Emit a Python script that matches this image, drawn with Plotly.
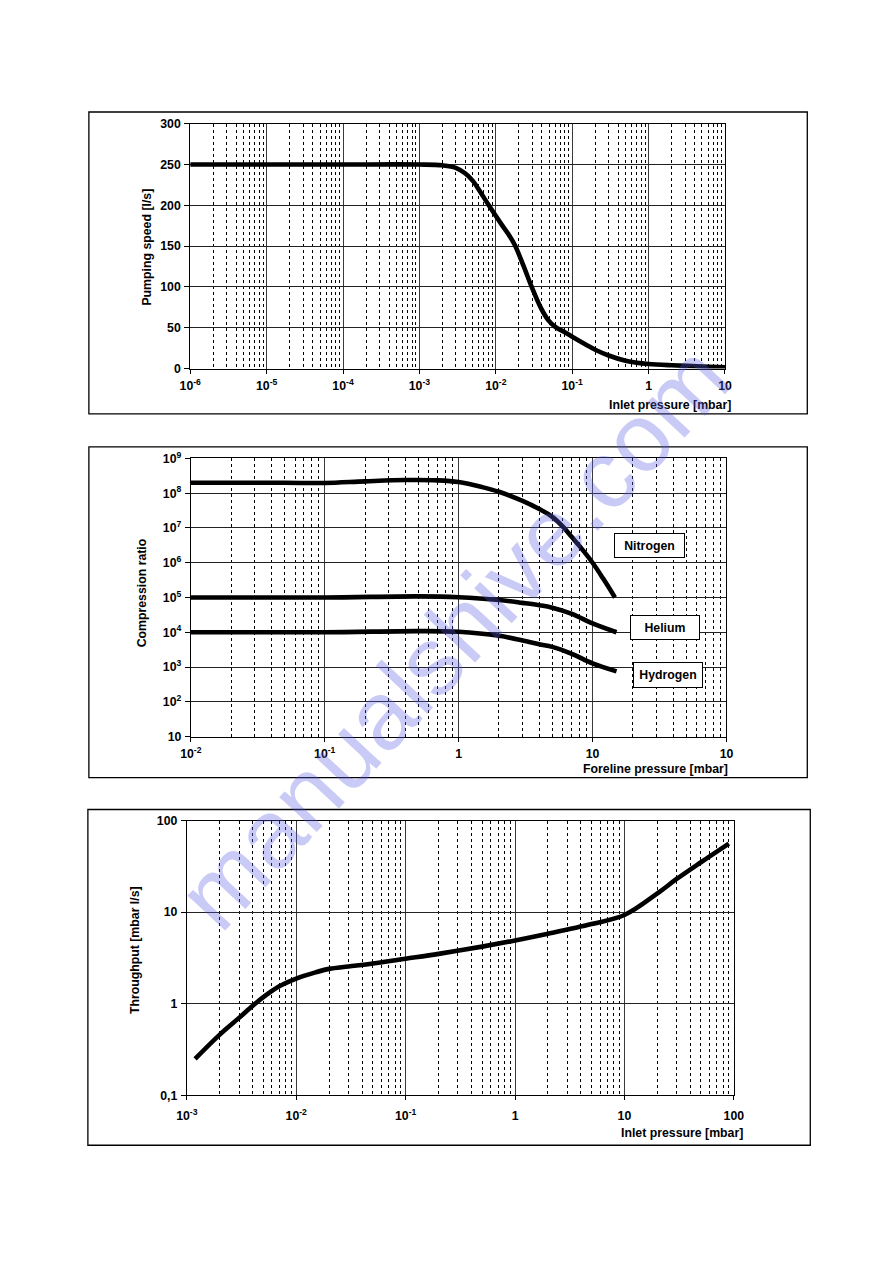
import math
import plotly.graph_objects as go

# ---------------- data ----------------
# Chart 1: pumping speed vs inlet pressure
p_speed = [1e-6, 1e-5, 1e-4, 1e-3, 2e-3, 3e-3, 4e-3, 5e-3, 6.3e-3, 8.1e-3, 1.2e-2, 1.5e-2,
           1.78e-2, 2.3e-2, 2.95e-2, 3.86e-2, 4.8e-2, 6e-2, 8e-2, 0.1, 0.15, 0.2, 0.3, 0.5,
           0.7, 1, 2, 5, 10]
speed = [250, 250, 250, 250, 249, 246, 239, 230, 216, 200, 176, 163,
         151, 126, 100, 75, 60, 51, 44.5, 39, 29.5, 23, 16, 9.5,
         7, 5.5, 4, 2.5, 1.5]

# Chart 2: compression ratio vs foreline pressure
p_nitrogen = [0.01, 0.05, 0.1, 0.2, 0.4, 0.7, 1, 1.5, 2, 3, 4, 5, 6, 7, 8, 10, 12, 14.7]
nitrogen = [2.0e8, 2.0e8, 1.97e8, 2.2e8, 2.4e8, 2.35e8, 2.1e8, 1.5e8, 1.1e8, 6e7, 3.5e7,
            2.1e7, 1.1e7, 5.5e6, 3e6, 1e6, 3.5e5, 1e5]
p_light = [0.01, 0.1, 0.5, 1, 2, 3, 4, 5, 7, 10, 15.1]
helium = [1e5, 1e5, 1.08e5, 1.02e5, 8.5e4, 7e4, 6e4, 5.1e4, 3.4e4, 1.8e4, 1e4]
hydrogen = [1e4, 1e4, 1.08e4, 1.03e4, 7.9e3, 5.8e3, 4.5e3, 3.8e3, 2.4e3, 1.27e3, 750]
gas_names = ["Nitrogen", "Helium", "Hydrogen"]
gas_label_at = [(26.5, 3.1e6), (34.7, 1.41e4), (36.5, 603)]

# Chart 3: throughput vs inlet pressure
p_thr = [1.19e-3, 2e-3, 3e-3, 4e-3, 5e-3, 7e-3, 1e-2, 1.5e-2, 2e-2, 3e-2, 5e-2, 0.1,
         0.2, 0.5, 1, 2, 5, 10, 20, 30, 50, 90]
throughput = [0.25, 0.46, 0.7, 0.95, 1.18, 1.55, 1.88, 2.2, 2.4, 2.55, 2.75, 3.1,
              3.5, 4.2, 4.9, 5.8, 7.4, 9.3, 16, 23, 35, 56]

# tick labels
x1_vals = [1e-6, 1e-5, 1e-4, 1e-3, 1e-2, 1e-1, 1, 10]
x1_text = ["10<sup>-6</sup>", "10<sup>-5</sup>", "10<sup>-4</sup>", "10<sup>-3</sup>",
           "10<sup>-2</sup>", "10<sup>-1</sup>", "1", "10"]
y1_vals = [0, 50, 100, 150, 200, 250, 300]
x2_vals = [1e-2, 1e-1, 1, 10, 100]
x2_text = ["10<sup>-2</sup>", "10<sup>-1</sup>", "1", "10", "10"]
y2_vals = [10, 1e2, 1e3, 1e4, 1e5, 1e6, 1e7, 1e8, 1e9]
y2_text = ["10", "10<sup>2</sup>", "10<sup>3</sup>", "10<sup>4</sup>", "10<sup>5</sup>",
           "10<sup>6</sup>", "10<sup>7</sup>", "10<sup>8</sup>", "10<sup>9</sup>"]
x3_vals = [1e-3, 1e-2, 1e-1, 1, 10, 100]
x3_text = ["10<sup>-3</sup>", "10<sup>-2</sup>", "10<sup>-1</sup>", "1", "10", "100"]
y3_vals = [0.1, 1, 10, 100]
y3_text = ["0,1", "1", "10", "100"]

# ---------------- layout helpers ----------------
# the captured picture is slightly reduced relative to page pixels; compensate
SX, SY = 0.980, 0.988
BODY = 8                      # default body margin of the html page
W, H = 893, 1258
FONT = "Liberation Sans, Arial, sans-serif"


def px(x):
    return (x / SX - BODY) / W


def py(y):
    return 1 - (y / SY - BODY) / H


def minor_vals(lo, hi):
    vals = []
    for e in range(lo, hi):
        for k in range(2, 10):
            vals.append(k * 10 ** e)
    return vals


fig = go.Figure()
line_style = dict(color="black", width=4.6, shape="spline", smoothing=1.0)
fig.add_trace(go.Scatter(x=p_speed, y=speed, mode="lines", line=line_style,
                         xaxis="x", yaxis="y", showlegend=False))
fig.add_trace(go.Scatter(x=p_nitrogen, y=nitrogen, mode="lines", line=line_style,
                         xaxis="x2", yaxis="y2", name="Nitrogen", showlegend=False))
fig.add_trace(go.Scatter(x=p_light, y=helium, mode="lines", line=line_style,
                         xaxis="x2", yaxis="y2", name="Helium", showlegend=False))
fig.add_trace(go.Scatter(x=p_light, y=hydrogen, mode="lines", line=line_style,
                         xaxis="x2", yaxis="y2", name="Hydrogen", showlegend=False))
fig.add_trace(go.Scatter(x=p_thr, y=throughput, mode="lines", line=line_style,
                         xaxis="x3", yaxis="y3", showlegend=False))

FS = 12.3
tickfont = dict(family=FONT, size=FS, color="black", weight="bold")
grid_major = "#3a3a3a"


def xaxis(domain, anchor, rng, vals, text, mlo, mhi, standoff=2):
    return dict(domain=domain, anchor=anchor, type="log", range=rng,
                tickmode="array", tickvals=vals, ticktext=text,
                showgrid=True, gridcolor=grid_major, gridwidth=1,
                showline=True, linecolor="black", linewidth=1, mirror=True,
                ticks="outside", ticklen=4, tickcolor="black",
                tickfont=tickfont, ticklabelstandoff=standoff,
                minor=dict(tickmode="array", tickvals=minor_vals(mlo, mhi),
                           showgrid=True, gridcolor="black", gridwidth=1,
                           griddash="3px,3px", ticks=""),
                zeroline=False, fixedrange=True)


def yaxis(domain, anchor, **kw):
    d = dict(domain=domain, anchor=anchor,
             showgrid=True, gridcolor="#222", gridwidth=1,
             showline=True, linecolor="black", linewidth=1, mirror=True,
             ticks="outside", ticklen=5, tickcolor="black",
             tickfont=tickfont, zeroline=False, fixedrange=True,
             ticklabelstandoff=1)
    d.update(kw)
    return d


fig.update_layout(
    width=W, height=H, margin=dict(l=0, r=0, t=0, b=0),
    paper_bgcolor="white", plot_bgcolor="white",
    font=dict(family=FONT, color="black"),
    xaxis=xaxis([px(187.7), px(724.4)], "y", [-6, 1], x1_vals, x1_text, -6, 1),
    yaxis=yaxis([py(367.7), py(122.7)], "x", range=[0, 300], tickmode="array",
                tickvals=y1_vals),
    xaxis2=xaxis([px(188.3), px(725.9)], "y2", [-2, 2], x2_vals, x2_text, -2, 2),
    yaxis2=yaxis([py(736), py(457.7)], "x2", type="log", range=[1, 9],
                 tickmode="array", tickvals=y2_vals, ticktext=y2_text),
    xaxis3=xaxis([px(184.3), px(733.3)], "y3", [-3, 2], x3_vals, x3_text, -3, 2, standoff=5),
    yaxis3=yaxis([py(1095), py(820)], "x3", type="log", range=[-1, 2],
                 tickmode="array", tickvals=y3_vals, ticktext=y3_text),
)

# frames around each chart
shapes = []
for (x0, y0, x1, y1) in [(86, 111, 807, 413), (86, 446, 807, 777), (85, 809, 810, 1145)]:
    shapes.append(dict(type="rect", xref="paper", yref="paper",
                       x0=px(x0), x1=px(x1), y0=py(y1), y1=py(y0),
                       line=dict(color="black", width=1.3), fillcolor="rgba(0,0,0,0)"))
fig.update_layout(shapes=shapes)

titlefont = dict(family=FONT, size=FS, color="black", weight="bold")
ann = []


def title(text, x, y, xanchor="center", angle=0):
    return dict(text=text, xref="paper", yref="paper", x=px(x), y=py(y),
                xanchor=xanchor, yanchor="middle", textangle=angle,
                showarrow=False, font=titlefont)


ann.append(title("Pumping speed [l/s]", 144, 246, angle=-90))
ann.append(title("Inlet pressure [mbar]", 732, 404, xanchor="right"))
ann.append(title("Compression ratio", 139, 592, angle=-90))
ann.append(title("Foreline pressure [mbar]", 729, 768, xanchor="right"))
ann.append(title("Throughput [mbar l/s]", 133, 950, angle=-90))
ann.append(title("Inlet pressure [mbar]", 744, 1133, xanchor="right"))

# gas labels in boxes
box_sizes = [(67, 21), (66, 21), (66, 22)]
for name, (gx, gy), (bw, bh) in zip(gas_names, gas_label_at, box_sizes):
    ann.append(dict(text=name, xref="x2", yref="y2", x=math.log10(gx), y=math.log10(gy),
                    xanchor="center", yanchor="middle",
                    showarrow=False, font=titlefont, bgcolor="white",
                    bordercolor="black", borderwidth=1, borderpad=1,
                    width=bw, height=bh))

# watermark
ann.append(dict(text="manualshive.com", xref="paper", yref="paper", x=px(452), y=py(636),
                xanchor="center", yanchor="middle",
                showarrow=False, textangle=-47,
                font=dict(family=FONT, size=97, color="rgba(90,90,230,0.32)")))
fig.update_layout(annotations=ann)

fig.write_html("out.html")
